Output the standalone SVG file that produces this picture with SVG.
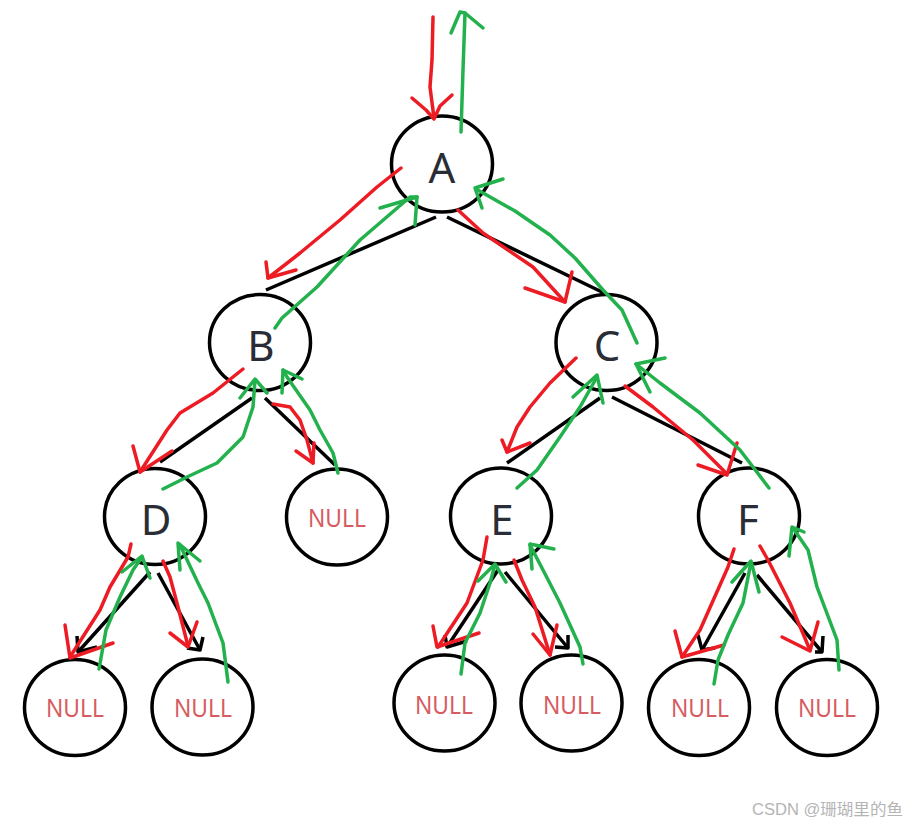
<svg xmlns="http://www.w3.org/2000/svg" width="908" height="826" viewBox="0 0 908 826">
<style>
.bg{fill:#fff}
.node ellipse{fill:#fff;stroke:#000;stroke-width:3.5}
.lbl{font-family:"Noto Sans","Liberation Sans",sans-serif;font-size:42px;fill:#2a2d36;text-anchor:middle}
.nul{font-family:"Noto Sans","Liberation Sans",sans-serif;font-size:25px;fill:#d65c61;text-anchor:middle}
.edge{fill:none;stroke:#000;stroke-width:3.5;stroke-linecap:butt;stroke-linejoin:round}
.red{fill:none;stroke:#ed1c24;stroke-width:3.5;stroke-linecap:round;stroke-linejoin:round}
.grn{fill:none;stroke:#22b14c;stroke-width:3.5;stroke-linecap:round;stroke-linejoin:round}
.wm{font-family:"Liberation Sans","Noto Sans CJK SC",sans-serif;font-size:16px;fill:#b4b4b4}
</style>
<rect class="bg" x="0" y="0" width="908" height="826"/>
<g id="edges">
<line class="edge" x1="436" y1="217" x2="266" y2="290"/>
<line class="edge" x1="447" y1="217" x2="604" y2="293"/>
<line class="edge" x1="252" y1="398" x2="160" y2="462"/>
<line class="edge" x1="265" y1="398" x2="335" y2="465"/>
<line class="edge" x1="600" y1="398" x2="507" y2="463"/>
<line class="edge" x1="612" y1="397" x2="742" y2="463"/>
<polyline class="edge" points="150,572 78,652"/>
<polyline class="edge" points="77,636 78,652 97,647"/>
<polyline class="edge" points="158,573 200,650"/>
<polyline class="edge" points="203,637 200,650 187,648"/>
<polyline class="edge" points="498,570 447,647"/>
<polyline class="edge" points="445,635 447,647 467,641"/>
<polyline class="edge" points="505,572 568,648"/>
<polyline class="edge" points="568,635 568,648 555,647"/>
<polyline class="edge" points="745,573 702,650"/>
<polyline class="edge" points="698,635 702,650 715,648"/>
<polyline class="edge" points="757,575 822,652"/>
<polyline class="edge" points="823,636 822,652 815,652"/>
</g>
<g id="node-A" class="node"><ellipse cx="442" cy="164" rx="50.5" ry="48"/><text class="lbl" x="442" y="183">A</text></g>
<g id="node-B" class="node"><ellipse cx="260" cy="342.5" rx="50.5" ry="48"/><text class="lbl" x="261" y="361">B</text></g>
<g id="node-C" class="node"><ellipse cx="606.5" cy="342.5" rx="50.5" ry="48"/><text class="lbl" x="607" y="361">C</text></g>
<g id="node-D" class="node"><ellipse cx="155" cy="516.5" rx="50.5" ry="48"/><text class="lbl" x="156" y="535">D</text></g>
<g id="node-NULL-B" class="node"><ellipse cx="337" cy="517" rx="50.5" ry="48"/><text class="nul" x="337" y="527" textLength="58" lengthAdjust="spacingAndGlyphs">NULL</text></g>
<g id="node-E" class="node"><ellipse cx="501" cy="516" rx="50.5" ry="48"/><text class="lbl" x="502" y="535">E</text></g>
<g id="node-F" class="node"><ellipse cx="749" cy="516" rx="50.5" ry="48"/><text class="lbl" x="748" y="535">F</text></g>
<g id="node-NULL-D1" class="node"><ellipse cx="75" cy="707.5" rx="50.5" ry="48"/><text class="nul" x="75" y="717" textLength="58" lengthAdjust="spacingAndGlyphs">NULL</text></g>
<g id="node-NULL-D2" class="node"><ellipse cx="202.5" cy="707" rx="50.5" ry="48"/><text class="nul" x="203" y="717" textLength="58" lengthAdjust="spacingAndGlyphs">NULL</text></g>
<g id="node-NULL-E1" class="node"><ellipse cx="444.5" cy="703" rx="50.5" ry="48"/><text class="nul" x="444" y="714" textLength="58" lengthAdjust="spacingAndGlyphs">NULL</text></g>
<g id="node-NULL-E2" class="node"><ellipse cx="571.5" cy="703" rx="50.5" ry="48"/><text class="nul" x="572" y="714" textLength="58" lengthAdjust="spacingAndGlyphs">NULL</text></g>
<g id="node-NULL-F1" class="node"><ellipse cx="699" cy="707.5" rx="50.5" ry="48"/><text class="nul" x="700" y="717" textLength="58" lengthAdjust="spacingAndGlyphs">NULL</text></g>
<g id="node-NULL-F2" class="node"><ellipse cx="827" cy="707.5" rx="50.5" ry="48"/><text class="nul" x="827" y="717" textLength="58" lengthAdjust="spacingAndGlyphs">NULL</text></g>
<g id="traversal">
<polyline class="red" points="433,17 432,60 430,87 434,118"/>
<polyline class="red" points="412,98 426,110 434,119 440,106 452,95"/>
<polyline class="grn" points="461,132 463,70 465,13"/>
<polyline class="grn" points="451,33 460,12 465,13 483,28"/>
<polyline class="red" points="401,168 377,187 340,220 300,253 268,278"/>
<polyline class="red" points="266,262 268,278 296,270"/>
<polyline class="grn" points="275,328 282,318 317,287 360,240 410,197 417,197"/>
<polyline class="grn" points="380,208 417,197 415,225"/>
<polyline class="red" points="458,210 483,233 533,267 565,302"/>
<polyline class="red" points="572,272 565,302 525,288"/>
<polyline class="grn" points="637,343 622,310 603,290 575,258 550,235 515,211 476,189"/>
<polyline class="grn" points="503,179 475,188 482,208"/>
<polyline class="red" points="243,369 213,393 180,413 167,430 140,472"/>
<polyline class="red" points="133,446 140,472 172,451"/>
<polyline class="grn" points="163,489 187,477 217,463 243,437 253,407 255,380"/>
<polyline class="grn" points="240,398 255,379 267,393"/>
<polyline class="red" points="273,404 290,407 300,420 307,440 313,463"/>
<polyline class="red" points="314,443 313,463 296,451"/>
<polyline class="grn" points="338,473 333,453 320,430 310,410 287,377 283,370"/>
<polyline class="grn" points="282,393 283,370 302,379"/>
<polyline class="red" points="576,358 550,383 530,407 517,427 507,452"/>
<polyline class="red" points="502,440 507,452 530,443"/>
<polyline class="grn" points="517,488 537,470 560,437 580,407 597,377"/>
<polyline class="grn" points="573,397 597,375 603,403"/>
<polyline class="red" points="625,386 653,407 693,440 727,474"/>
<polyline class="red" points="737,443 727,475 698,465"/>
<polyline class="grn" points="769,488 740,450 700,413 660,383 636,364"/>
<polyline class="grn" points="665,358 636,364 650,392"/>
<polyline class="red" points="131,544 128,557 110,587 100,610 70,657"/>
<polyline class="red" points="65,625 70,658 113,643"/>
<polyline class="grn" points="99,669 106,630 120,597 133,570 142,557"/>
<polyline class="grn" points="122,572 142,556 150,578"/>
<polyline class="red" points="163,561 170,577 178,607 188,646"/>
<polyline class="red" points="197,622 188,647 170,633"/>
<polyline class="grn" points="228,682 223,643 208,603 198,583 180,545"/>
<polyline class="grn" points="180,570 178,543 200,561"/>
<polyline class="red" points="487,537 483,560 467,603 438,647"/>
<polyline class="red" points="433,626 437,647 479,633"/>
<polyline class="grn" points="461,674 465,643 480,613 490,583 495,565"/>
<polyline class="grn" points="478,581 495,564 506,582"/>
<polyline class="red" points="514,560 522,580 535,607 550,655"/>
<polyline class="red" points="557,625 550,655 533,634"/>
<polyline class="grn" points="583,664 580,647 560,603 543,570 530,545"/>
<polyline class="grn" points="532,569 530,544 554,549"/>
<polyline class="red" points="734,549 728,567 712,603 700,630 682,657"/>
<polyline class="red" points="675,631 682,657 724,645"/>
<polyline class="grn" points="714,684 718,660 728,635 743,603 751,562"/>
<polyline class="grn" points="732,582 751,561 759,592"/>
<polyline class="red" points="760,546 768,560 790,603 810,650"/>
<polyline class="red" points="818,622 810,651 782,637"/>
<polyline class="grn" points="839,670 837,640 817,587 808,550 793,528"/>
<polyline class="grn" points="789,556 792,527 804,532"/>
</g>
<text class="wm" x="752" y="815" textLength="151" lengthAdjust="spacingAndGlyphs">CSDN @珊瑚里的鱼</text>
</svg>
